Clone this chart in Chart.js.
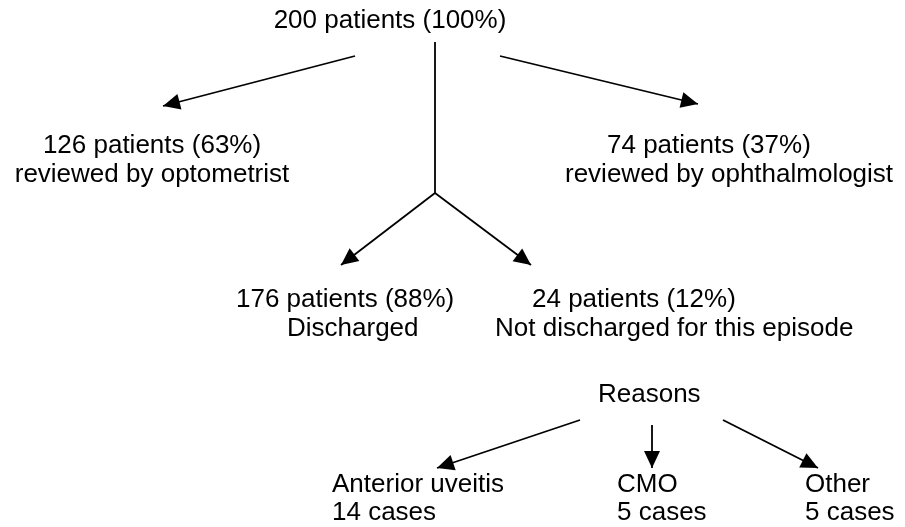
<!DOCTYPE html>
<html>
<head>
<meta charset="utf-8">
<script src="https://cdn.jsdelivr.net/npm/chart.js@4/dist/chart.umd.min.js"></script>
<style>
  html, body { margin: 0; padding: 0; background: #fff; }
  #wrap { width: 905px; height: 527px; }
</style>
</head>
<body>
<div id="wrap"><canvas id="flow" width="905" height="527"></canvas></div>
<script>
// values
const totalPatients = 200;
const reviewers = ['optometrist', 'ophthalmologist'];
const reviewedCounts = [126, 74];
const outcomes = ['Discharged', 'Not discharged for this episode'];
const outcomeCounts = [176, 24];
const reasons = ['Anterior uveitis', 'CMO', 'Other'];
const reasonCases = [14, 5, 5];

function pct(n) { return Math.round(n / totalPatients * 100) + '%'; }

// layout in axis units (x 0..905, y 0..527 top-down)
const textSpots = [
  { x: 390, y: 28, align: 'center' },                 // total
  { x: 152, y: 153, align: 'center' }, { x: 152, y: 182, align: 'center' },
  { x: 607, y: 153, align: 'left' }, { x: 565, y: 182, align: 'left' },
  { x: 236, y: 307, align: 'left' }, { x: 287, y: 336, align: 'left' },
  { x: 532, y: 307, align: 'left' }, { x: 495, y: 336, align: 'left' },
  { x: 598, y: 402, align: 'left' },
  { x: 332, y: 492, align: 'left' }, { x: 332, y: 520, align: 'left' },
  { x: 617, y: 492, align: 'left' }, { x: 617, y: 520, align: 'left' },
  { x: 805, y: 492, align: 'left' }, { x: 805, y: 520, align: 'left' }
];

const links = [
  { from: [355, 56], to: [163, 106], head: true },
  { from: [500, 56], to: [698, 104], head: true },
  { from: [435, 42], to: [435, 193], head: false },
  { from: [435, 193], to: [341, 265], head: true },
  { from: [435, 193], to: [531, 265], head: true },
  { from: [580, 420], to: [437, 468], head: true },
  { from: [652, 425], to: [652, 468], head: true },
  { from: [723, 420], to: [818, 468], head: true }
];

const texts = [
  totalPatients + ' patients (100%)',
  reviewedCounts[0] + ' patients (' + pct(reviewedCounts[0]) + ')', 'reviewed by ' + reviewers[0],
  reviewedCounts[1] + ' patients (' + pct(reviewedCounts[1]) + ')', 'reviewed by ' + reviewers[1],
  outcomeCounts[0] + ' patients (' + pct(outcomeCounts[0]) + ')', outcomes[0],
  outcomeCounts[1] + ' patients (' + pct(outcomeCounts[1]) + ')', outcomes[1],
  'Reasons'
];
reasons.forEach(function(r, i) {
  texts.push(r);
  texts.push(reasonCases[i] + ' cases');
});

const labelPlugin = {
  id: 'labels',
  afterDatasetsDraw(chart) {
    const ctx = chart.ctx;
    const sx = chart.scales.x, sy = chart.scales.y;
    ctx.save();
    ctx.fillStyle = '#000';
    ctx.font = '26px "Liberation Sans", Arial, sans-serif';
    ctx.textBaseline = 'alphabetic';
    texts.forEach(function(t, i) {
      const p = textSpots[i];
      ctx.textAlign = p.align;
      ctx.fillText(t, sx.getPixelForValue(p.x), sy.getPixelForValue(p.y));
    });
    ctx.restore();
  }
};

const arrowPlugin = {
  id: 'arrows',
  afterDatasetsDraw(chart) {
    const ctx = chart.ctx;
    chart.data.datasets.forEach(function(ds, i) {
      if (!ds.head) return;
      const pts = chart.getDatasetMeta(i).data;
      const a = pts[0], b = pts[pts.length - 1];
      const ang = Math.atan2(b.y - a.y, b.x - a.x);
      const len = 17, half = 8;
      ctx.save();
      ctx.translate(b.x, b.y);
      ctx.rotate(ang);
      ctx.beginPath();
      ctx.moveTo(0, 0);
      ctx.lineTo(-len, -half);
      ctx.lineTo(-len, half);
      ctx.closePath();
      ctx.fillStyle = '#000';
      ctx.fill();
      ctx.restore();
    });
  }
};

new Chart(document.getElementById('flow'), {
  type: 'scatter',
  data: {
    datasets: links.map(function(l) {
      return {
        data: [{ x: l.from[0], y: l.from[1] }, { x: l.to[0], y: l.to[1] }],
        head: l.head,
        showLine: true,
        borderColor: '#000',
        borderWidth: 1.8,
        pointRadius: 0,
        clip: false
      };
    })
  },
  options: {
    responsive: false,
    animation: false,
    layout: { padding: 0 },
    scales: {
      x: { type: 'linear', min: 0, max: 905, display: false },
      y: { type: 'linear', min: 0, max: 527, reverse: true, display: false }
    },
    plugins: {
      legend: { display: false },
      tooltip: { enabled: false }
    }
  },
  plugins: [labelPlugin, arrowPlugin]
});
</script>
</body>
</html>
